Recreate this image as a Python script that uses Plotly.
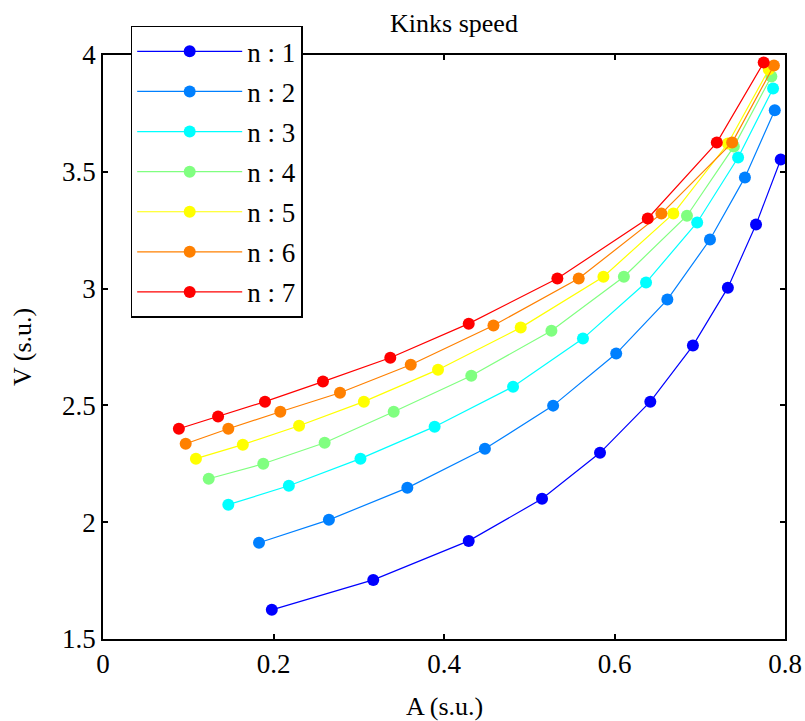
import plotly.graph_objects as go

# Kink speed V versus amplitude A for each mode n
a_n1 = [0.198, 0.317, 0.429, 0.515, 0.583, 0.642, 0.692, 0.733, 0.766, 0.795]
v_n1 = [1.625, 1.753, 1.920, 2.100, 2.297, 2.516, 2.756, 3.004, 3.274, 3.553]

a_n2 = [0.183, 0.265, 0.357, 0.448, 0.528, 0.602, 0.662, 0.712, 0.753, 0.788]
v_n2 = [1.912, 2.010, 2.147, 2.314, 2.499, 2.722, 2.953, 3.210, 3.476, 3.763]

a_n3 = [0.147, 0.218, 0.302, 0.389, 0.481, 0.563, 0.637, 0.697, 0.745, 0.786]
v_n3 = [2.075, 2.156, 2.272, 2.409, 2.580, 2.786, 3.026, 3.283, 3.561, 3.857]

a_n4 = [0.124, 0.188, 0.260, 0.341, 0.432, 0.526, 0.611, 0.685, 0.740, 0.784]
v_n4 = [2.186, 2.250, 2.340, 2.473, 2.627, 2.820, 3.051, 3.312, 3.608, 3.908]

a_n5 = [0.109, 0.164, 0.230, 0.306, 0.393, 0.490, 0.587, 0.669, 0.733, 0.781]
v_n5 = [2.272, 2.332, 2.413, 2.516, 2.653, 2.833, 3.051, 3.321, 3.621, 3.938]

a_n6 = [0.097, 0.147, 0.208, 0.278, 0.361, 0.458, 0.558, 0.655, 0.738, 0.787]
v_n6 = [2.336, 2.400, 2.473, 2.554, 2.674, 2.842, 3.043, 3.321, 3.625, 3.955]

a_n7 = [0.089, 0.135, 0.190, 0.258, 0.337, 0.429, 0.533, 0.639, 0.720, 0.775]
v_n7 = [2.400, 2.452, 2.516, 2.602, 2.704, 2.850, 3.043, 3.300, 3.625, 3.968]

series_names = ["n : 1", "n : 2", "n : 3", "n : 4", "n : 5", "n : 6", "n : 7"]
series_a = [a_n1, a_n2, a_n3, a_n4, a_n5, a_n6, a_n7]
series_v = [v_n1, v_n2, v_n3, v_n4, v_n5, v_n6, v_n7]
# jet colormap sampled at 7 levels
series_colors = ["#0000FF", "#0080FF", "#00FFFF", "#80FF80",
                 "#FFFF00", "#FF8000", "#FF0000"]

x_ticks = [0, 0.2, 0.4, 0.6, 0.8]
x_tick_text = ["0", "0.2", "0.4", "0.6", "0.8"]
y_ticks = [1.5, 2, 2.5, 3, 3.5, 4]
y_tick_text = ["1.5", "2", "2.5", "3", "3.5", "4"]

FONT = "Times New Roman"
TICK_FS = 27
TITLE_FS = 26
LEGEND_FS = 27

fig = go.Figure()
for name, a, v, c in zip(series_names, series_a, series_v, series_colors):
    fig.add_trace(go.Scatter(
        x=a, y=v, name=name, legendgroup=name, mode="lines+markers",
        line=dict(color=c, width=1.2),
        marker=dict(color=c, size=12, line=dict(width=0)),
    ))

axis_common = dict(
    showgrid=False, zeroline=False, automargin=False,
    showline=True, linecolor="black", linewidth=1.5, mirror="ticks",
    ticks="inside", ticklen=5, tickwidth=1.5, tickcolor="black",
    tickfont=dict(family=FONT, size=TICK_FS, color="black"),
)

fig.update_layout(
    width=805, height=721,
    margin=dict(l=103, r=20, t=55, b=82, autoexpand=False),
    paper_bgcolor="white", plot_bgcolor="white",
    font=dict(family=FONT, color="black"),
    title=dict(text="Kinks speed", x=0.564, xanchor="center", y=0.968,
               yanchor="middle",
               font=dict(family=FONT, size=TITLE_FS, color="black")),
    xaxis=dict(range=[0, 0.8], tickvals=x_ticks, ticktext=x_tick_text,
               **axis_common),
    yaxis=dict(range=[1.5, 4], tickvals=y_ticks, ticktext=y_tick_text,
               **axis_common),
    legend=dict(x=0.0406, y=1.05, xanchor="left", yanchor="top",
                bgcolor="white", bordercolor="black", borderwidth=1.5,
                font=dict(family=FONT, size=LEGEND_FS, color="black"),
                itemwidth=105, tracegroupgap=2),
    showlegend=True,
    annotations=[
        dict(text="A (s.u.)", xref="paper", yref="paper", x=0.5, y=-0.1164,
             xanchor="center", yanchor="middle", showarrow=False,
             font=dict(family=FONT, size=TITLE_FS, color="black")),
        dict(text="V (s.u.)", xref="paper", yref="paper", x=-0.1188, y=0.5,
             xanchor="center", yanchor="middle", showarrow=False, textangle=-90,
             font=dict(family=FONT, size=TITLE_FS, color="black")),
    ],
)

fig.write_html("out.html")
